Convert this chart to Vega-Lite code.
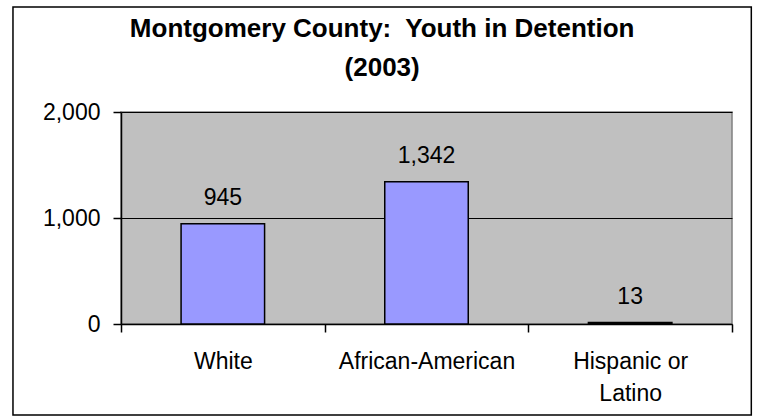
{
  "$schema": "https://vega.github.io/schema/vega-lite/v6.json",
  "autosize": "none",
  "width": 611,
  "height": 212,
  "padding": {"left": 121, "top": 112, "right": 28, "bottom": 93},
  "background": "white",
  "config": {
    "font": "Liberation Sans",
    "view": {"fill": "#C0C0C0", "stroke": "#808080", "strokeWidth": 1.5},
    "axisX": {
      "title": null, "labelAngle": 0, "tickBand": "extent",
      "tickSize": 8, "tickColor": "black", "tickWidth": 1.5,
      "domainColor": "black", "domainWidth": 1.5,
      "labelFontSize": 23, "labelColor": "black", "labelPadding": 18,
      "labelLineHeight": 32, "grid": false
    },
    "axisY": {
      "title": null,
      "grid": true, "gridColor": "black", "gridWidth": 1,
      "tickSize": 8, "tickColor": "black", "tickWidth": 1.5,
      "domainColor": "black", "domainWidth": 1.5,
      "labelFontSize": 23, "labelColor": "black", "labelPadding": 13,
      "labelExpr": "format(datum.value, ',')"
    }
  },
  "title": {
    "text": ["Montgomery County:\u00a0 Youth in Detention", "(2003)"],
    "fontSize": 26,
    "fontWeight": "bold",
    "font": "Liberation Sans",
    "color": "black",
    "lineHeight": 39,
    "anchor": "middle",
    "frame": "bounds",
    "offset": -75
  },
  "data": {
    "values": [
      {"group": "White", "count": 945},
      {"group": "African-American", "count": 1342},
      {"group": "Hispanic or Latino", "count": 13}
    ]
  },
  "layer": [
    {
      "layer": [
        {
          "mark": {"type": "bar", "fill": "#9999FF", "stroke": "black", "strokeWidth": 1.5, "width": {"band": 0.41}},
          "encoding": {
            "x": {
              "field": "group", "type": "nominal", "sort": null,
              "scale": {"paddingInner": 0, "paddingOuter": 0},
              "axis": {
                "title": null,
                "labelExpr": "datum.value == 'Hispanic or Latino' ? ['Hispanic or', 'Latino'] : datum.label"
              }
            },
            "y": {
              "field": "count", "type": "quantitative",
              "scale": {"domain": [0, 2000], "nice": false},
              "axis": {"title": null, "values": [0, 1000, 2000]}
            }
          }
        },
        {
          "mark": {"type": "text", "fontSize": 23, "color": "black", "baseline": "alphabetic", "dy": -19},
          "encoding": {
            "x": {
              "field": "group", "type": "nominal", "sort": null,
              "axis": {
                "title": null,
                "labelExpr": "datum.value == 'Hispanic or Latino' ? ['Hispanic or', 'Latino'] : datum.label"
              }
            },
            "y": {
              "field": "count", "type": "quantitative",
              "axis": {"title": null, "values": [0, 1000, 2000]}
            },
            "text": {"field": "count", "type": "quantitative", "format": ","}
          }
        }
      ]
    },
    {
      "data": {"values": [{"left": -0.1768, "right": 1.0316, "top": 2990.6, "bottom": -858.5}]},
      "mark": {"type": "rect", "fill": null, "stroke": "black", "strokeWidth": 1.5},
      "encoding": {
        "x": {"field": "left", "type": "quantitative", "scale": {"domain": [0, 1]}, "axis": null},
        "x2": {"field": "right"},
        "y": {
          "field": "top", "type": "quantitative",
          "scale": {"domain": [0, 2000], "nice": false},
          "axis": {"title": null, "values": [0, 1000, 2000]}
        },
        "y2": {"field": "bottom"}
      }
    }
  ],
  "resolve": {"scale": {"x": "independent"}}
}
